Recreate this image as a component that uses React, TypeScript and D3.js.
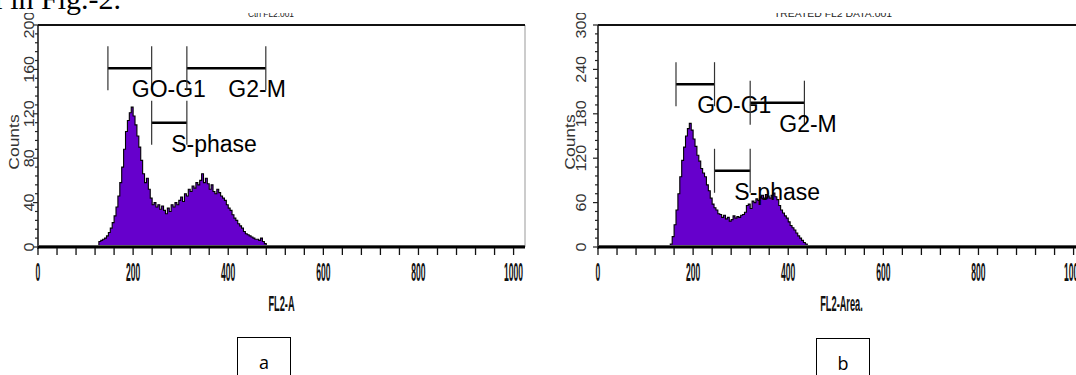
import React from "react";
import * as d3 from "d3";

// channel axis
const xTickValues = [0, 200, 400, 600, 800, 1000];
const leftCountTicks = [0, 40, 80, 120, 160, 200];
const rightCountTicks = [0, 60, 120, 180, 240, 300];

// histogram counts, one value per 4-channel bin
const binWidth = 4;
const leftStart = 128;
const leftCounts = [
  5, 6, 7, 8, 10, 13, 17, 22, 28, 36, 46, 58, 72, 88, 104, 114, 121, 126, 118, 110,
  100, 90, 78, 66, 58, 62, 52, 44, 38, 40, 36, 38, 34, 37, 33, 30, 35, 32, 38, 36,
  40, 38, 42, 45, 41, 48, 46, 52, 50, 55, 53, 58, 56, 60, 66, 58, 62, 57, 52, 56,
  50, 48, 52, 49, 46, 44, 42, 38, 35, 33, 29, 26, 24, 21, 19, 17, 14, 12, 11, 10,
  9, 8, 7, 7, 6, 8, 5, 3,
];
const rightStart = 152;
const rightCounts = [
  4, 14, 30, 50, 72, 95, 117, 135, 150, 160, 167, 158, 146, 136, 124, 116, 106, 100, 95, 84,
  76, 66, 58, 53, 50, 45, 44, 40, 43, 38, 40, 35, 37, 42, 39, 41, 40, 43, 44, 47,
  56, 58, 52, 62, 60, 65, 63, 67, 70, 66, 71, 69, 66, 70, 73, 68, 64, 56, 50, 46,
  42, 39, 34, 29, 26, 23, 19, 15, 12, 9, 6, 4, 2,
];

// gate markers (channels, count level)
const leftGates = [
  { name: "GO-G1", from: 147, to: 239, level: 161 },
  { name: "G2-M", from: 313, to: 479, level: 161 },
  { name: "S-phase", from: 239, to: 313, level: 112 },
];
const rightGates = [
  { name: "GO-G1", from: 164, to: 245, level: 220 },
  { name: "G2-M", from: 320, to: 434, level: 195 },
  { name: "S-phase", from: 245, to: 320, level: 103 },
];

const TOP = 25;
const BASE = 247;
const WIDTH = 487;
const SANS = "Liberation Sans, Arial, sans-serif";

function Panel({ left, labelX, countsX, yTicks, start, counts, gates, xLabel, title, titleX, titleW }) {
  const x = d3.scaleLinear().domain([0, 1024]).range([left, left + WIDTH]);
  const yMax = yTicks[yTicks.length - 1];
  const y = d3.scaleLinear().domain([0, yMax]).range([BASE, TOP]);

  const pts = counts.map((c, i) => [start + i * binWidth, c]);
  pts.push([start + counts.length * binWidth, 0]);
  const area = d3.area()
    .x(d => x(d[0]))
    .y0(y(0))
    .y1(d => y(d[1]))
    .curve(d3.curveStepAfter);
  const line = d3.line()
    .x(d => x(d[0]))
    .y(d => y(d[1]))
    .curve(d3.curveStepAfter);

  const step = yTicks[1] - yTicks[0];
  const yMinor = d3.range(0, yMax + 0.01, step / 5);
  const xMinor = d3.range(0, 1025, 40);

  return (
    <g>
      {/* title, mostly cut off by the crop */}
      <text x={titleX} y={17} fontSize={9} fontFamily={SANS}
        textLength={titleW} lengthAdjust="spacingAndGlyphs" fill="#222">{title}</text>

      <path d={area(pts)} fill="#6600cc" />
      <path d={line([[start, 0], ...pts])} fill="none" stroke="#000" strokeWidth={1.1} />

      {/* frame */}
      <line x1={x(1024)} x2={x(1024)} y1={TOP} y2={BASE} stroke="#999" strokeWidth={1} />
      <line x1={left} x2={x(1024)} y1={TOP} y2={TOP} stroke="#111" strokeWidth={2} />
      <line x1={left} x2={left} y1={TOP} y2={BASE + 2} stroke="#111" strokeWidth={1.5} />
      <line x1={left} x2={x(1024)} y1={BASE - 1.5} y2={BASE - 1.5} stroke="#aaa" strokeWidth={1} />
      <line x1={left} x2={x(1024)} y1={BASE} y2={BASE} stroke="#000" strokeWidth={3} />

      {/* y ticks */}
      {yMinor.map((v, i) => (
        <line key={"ym" + i} x1={left - (i % 5 === 0 ? 5 : 3)} x2={left} y1={y(v)} y2={y(v)}
          stroke="#222" strokeWidth={1.2} />
      ))}
      {yTicks.map(v => (
        <text key={"yl" + v} transform={`translate(${labelX},${y(v)}) rotate(-90) scale(1.15,1)`}
          textAnchor="middle" fontSize={14} fontFamily={SANS} fill="#333">{v}</text>
      ))}
      <text transform={`translate(${countsX},142) rotate(-90) scale(1.25,1)`} textAnchor="middle"
        fontSize={14} fontFamily={SANS} fill="#333">Counts</text>

      {/* x ticks */}
      {xMinor.map(v => (
        <line key={"xm" + v} x1={x(v)} x2={x(v)} y1={BASE + 1} y2={BASE + 8} stroke="#111" strokeWidth={1.3} />
      ))}
      {xTickValues.map(v => (
        <text key={"xl" + v} transform={`translate(${x(v)},281) scale(0.33,1)`} textAnchor="middle"
          fontSize={26} fontWeight="bold" fontFamily={SANS} fill="#111">{v}</text>
      ))}
      <text transform={`translate(${left + WIDTH / 2},311) scale(0.42,1)`} textAnchor="middle"
        fontSize={22} fontWeight="bold" fontFamily={SANS} fill="#111">{xLabel}</text>

      {/* gates */}
      {gates.map(g => (
        <g key={g.name}>
          <line x1={x(g.from)} x2={x(g.to)} y1={y(g.level)} y2={y(g.level)} stroke="#000" strokeWidth={2.5} />
          <line x1={x(g.from)} x2={x(g.from)} y1={y(g.level) - 22} y2={y(g.level) + 22} stroke="#333" strokeWidth={1.2} />
          <line x1={x(g.to)} x2={x(g.to)} y1={y(g.level) - 22} y2={y(g.level) + 22} stroke="#333" strokeWidth={1.2} />
          <text x={x((g.from + g.to) / 2) + 2} y={y(g.level) + 29} fontSize={23}
            fontFamily={SANS} fill="#000">{g.name}</text>
        </g>
      ))}
    </g>
  );
}

export default function App() {
  return (
    <svg width={1076} height={375} style={{ position: "absolute", left: 0, top: 0, background: "#fff" }}>
      <defs>
        <clipPath id="fig-clip">
          <rect x={0} y={13} width={1076} height={362} />
        </clipPath>
      </defs>
      <text x={-19} y={9} fontSize={30} fontFamily="Liberation Serif, Times New Roman, serif" fill="#000">al in Fig.-2.</text>
      <g clipPath="url(#fig-clip)">
        <Panel left={38} labelX={34} countsX={19} yTicks={leftCountTicks} start={leftStart}
          counts={leftCounts} gates={leftGates} xLabel="FL2-A"
          title="Ctrl FL2.001" titleX={248} titleW={46} />
        <Panel left={598} labelX={586} countsX={575} yTicks={rightCountTicks} start={rightStart}
          counts={rightCounts} gates={rightGates} xLabel="FL2-Area."
          title="TREATED FL2 DATA.001" titleX={774} titleW={118} />
      </g>
      <rect x={237.5} y={337.5} width={53} height={60} fill="none" stroke="#000" strokeWidth={1} />
      <text x={264} y={369} textAnchor="middle" fontSize={18} fontFamily="Open Sans, sans-serif" fill="#000">a</text>
      <rect x={816.5} y={338.5} width={53} height={60} fill="none" stroke="#000" strokeWidth={1} />
      <text x={843} y={370} textAnchor="middle" fontSize={18} fontFamily="Open Sans, sans-serif" fill="#000">b</text>
    </svg>
  );
}
